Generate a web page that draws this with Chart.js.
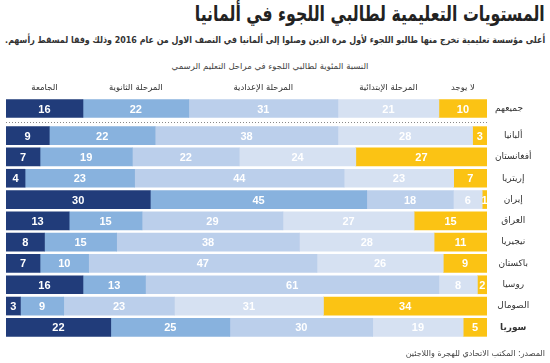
<!DOCTYPE html>
<html lang="ar">
<head>
<meta charset="utf-8">
<script src="https://cdn.jsdelivr.net/npm/chart.js@4"></script>
<style>
  body { margin: 0; background: #fff; }
  #wrap { position: relative; width: 550px; height: 363px; overflow: hidden; font-family: "DejaVu Sans", sans-serif; }
  canvas { position: absolute; left: 0; top: 0; }
  .txt { position: absolute; right: 5px; direction: rtl; white-space: nowrap; color: #222; transform-origin: right center; }
  #title { top: 2px; font-size: 21px; font-weight: bold; }
  #sub { top: 34px; font-size: 9.5px; font-weight: bold; color: #333; }
  #head { top: 61px; right: auto; left: 270px; transform: translateX(-50%); font-size: 8.5px; color: #444; }
  #src { top: 349px; font-size: 8px; color: #444; }
</style>
</head>
<body>
<div id="wrap">
  <div class="txt" id="title">المستويات التعليمية لطالبي اللجوء في ألمانيا</div>
  <div class="txt" id="sub">أعلى مؤسسة تعليمية تخرج منها طالبو اللجوء لأول مرة الذين وصلوا إلى ألمانيا في النصف الاول من عام <b>2016</b> وذلك وفقا لمسقط رأسهم.</div>
  <div class="txt" id="head">النسبة المئوية لطالبي اللجوء في مراحل التعليم الرسمي</div>
  <canvas id="chartAll" width="550" height="363"></canvas>
  <canvas id="chartCountries" width="550" height="363"></canvas>
  <div class="txt" id="src">المصدر: المكتب الاتحادي للهجرة واللاجئين</div>
</div>
<script>
// المراحل (من اليسار إلى اليمين)
const stages = ["الجامعة", "المرحلة الثانوية", "المرحلة الإعدادية", "المرحلة الإبتدائية", "لا يوجد"];
const colors = ["#213c7a", "#88b2de", "#bbcfeb", "#d6e1f2", "#fbc314"];

// الصف الأول: جميعهم
const allLabel = ["جميعهم"];
const allValues = [16, 22, 31, 21, 10];

// الدول
const countries = ["ألبانيا", "أفغانستان", "إريتريا", "إيران", "العراق", "نيجيريا", "باكستان", "روسيا", "الصومال", "سوريا"];
const university = [9, 7, 4, 30, 13, 8, 7, 16, 3, 22];
const secondary  = [22, 19, 23, 45, 15, 15, 10, 13, 9, 25];
const middle     = [38, 22, 44, 18, 29, 38, 47, 61, 23, 30];
const primary    = [28, 24, 23, 6, 27, 28, 26, 8, 31, 19];
const noneEdu    = [3, 27, 7, 1, 15, 11, 9, 2, 34, 5];

const AXIS_W = 63;

// ضغط النص أفقيا ليأخذ نفس عرض الأصل
function fitWidth(id, w) {
    const el = document.getElementById(id);
    const cur = el.getBoundingClientRect().width;
    if (cur > w) el.style.transform = `scaleX(${w / cur})`;
}
fitWidth("title", 350);
fitWidth("sub", 540);

// كل شريط يملأ العرض كاملا (100%)
function toShare(rows) {
    const totals = rows[0].map((_, i) => rows.reduce((s, r) => s + r[i], 0));
    return rows.map(r => r.map((v, i) => v / totals[i] * 100));
}

// أرقام بيضاء داخل الشرائح
const valueLabels = {
    id: "valueLabels",
    afterDatasetsDraw(chart) {
        const ctx = chart.ctx;
        ctx.save();
        ctx.fillStyle = "#fff";
        ctx.font = "bold 11px 'Liberation Sans', Arial, sans-serif";
        ctx.textAlign = "center";
        ctx.textBaseline = "middle";
        chart.data.datasets.forEach((ds, d) => {
            chart.getDatasetMeta(d).data.forEach((bar, i) => {
                ctx.fillText(ds.raw[i], (bar.x + bar.base) / 2, bar.y + 1);
            });
        });
        ctx.restore();
    }
};

// عناوين المراحل فوق الشريط الأول والخط المنقط
const stageHeaders = {
    id: "stageHeaders",
    afterDraw(chart) {
        const ctx = chart.ctx;
        const area = chart.chartArea;
        ctx.save();
        ctx.fillStyle = "#333";
        ctx.font = "8.5px 'DejaVu Sans', sans-serif";
        ctx.textAlign = "center";
        ctx.textBaseline = "middle";
        chart.data.datasets.forEach((ds, d) => {
            const bar = chart.getDatasetMeta(d).data[0];
            ctx.fillText(ds.label, (bar.x + bar.base) / 2, 88);
        });
        ctx.strokeStyle = "#888";
        ctx.setLineDash([1, 2]);
        ctx.lineWidth = 1;
        ctx.beginPath();
        ctx.moveTo(area.left, 122.5);
        ctx.lineTo(area.right, 122.5);
        ctx.stroke();
        ctx.restore();
    }
};

function makeChart(id, labels, rows, padding, plugins) {
    const shares = toShare(rows);
    return new Chart(document.getElementById(id), {
        type: "bar",
        data: {
            labels: labels,
            datasets: stages.map((s, k) => ({
                label: s,
                data: shares[k],
                raw: rows[k],
                backgroundColor: colors[k],
                borderWidth: 0,
                barThickness: 18
            }))
        },
        options: {
            indexAxis: "y",
            responsive: false,
            animation: false,
            layout: { padding: padding },
            plugins: { legend: { display: false }, tooltip: { enabled: false } },
            scales: {
                x: { stacked: true, min: 0, max: 100, display: false },
                y: {
                    stacked: true,
                    position: "right",
                    grid: { display: false, drawTicks: false },
                    border: { display: false },
                    afterFit: scale => { scale.width = AXIS_W; },
                    ticks: {
                        crossAlign: "center",
                        padding: 8,
                        color: "#333",
                        font: c => ({
                            family: "'DejaVu Sans', sans-serif",
                            size: 9,
                            weight: c.tick && c.tick.label === "سوريا" ? "bold" : "normal"
                        })
                    }
                }
            }
        },
        plugins: plugins
    });
}

makeChart("chartAll", allLabel, allValues.map(v => [v]),
    { left: 6, right: 0, top: 99, bottom: 363 - 118 }, [valueLabels, stageHeaders]);

makeChart("chartCountries", countries, [university, secondary, middle, primary, noneEdu],
    { left: 6, right: 0, top: 125, bottom: 363 - 338 }, [valueLabels]);
</script>
</body>
</html>
